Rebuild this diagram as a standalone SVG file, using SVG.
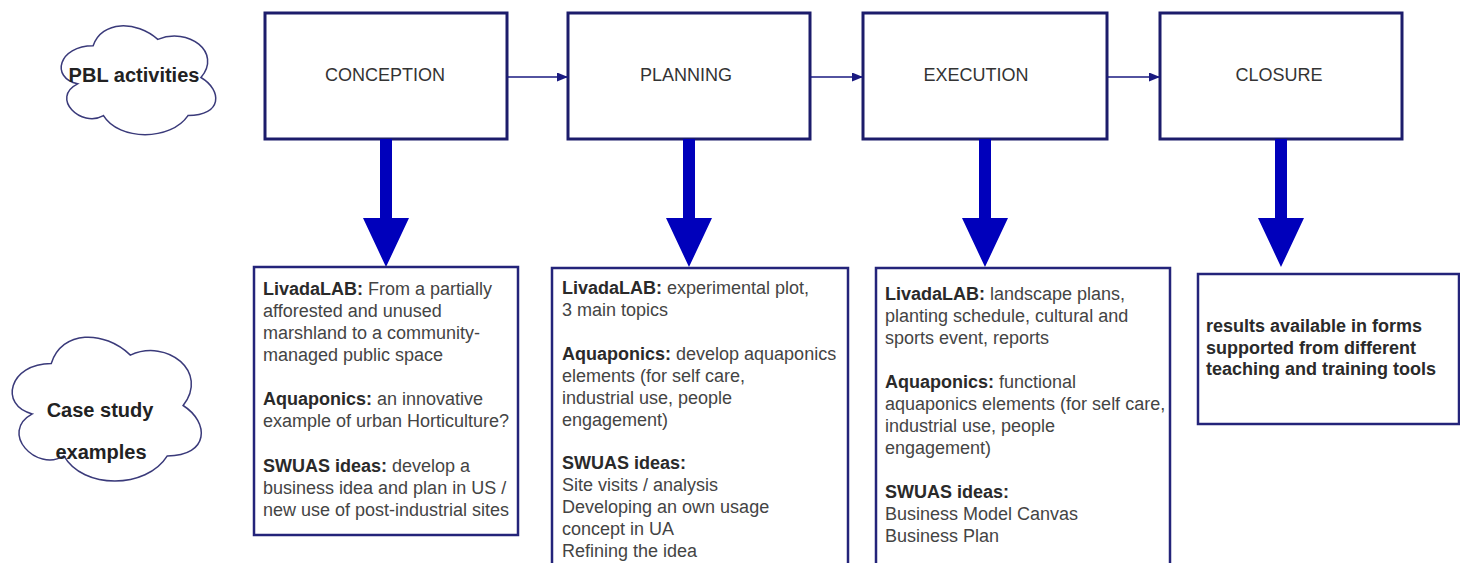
<svg xmlns="http://www.w3.org/2000/svg" width="1460" height="563" viewBox="0 0 1460 563">
<style>
  .box { fill: #ffffff; stroke: #1c1c6b; stroke-width: 3; }
  .bbox { fill: #ffffff; stroke: #24247a; stroke-width: 2.5; }
  .cloud { fill: #ffffff; stroke: #3a3a7a; stroke-width: 1.5; }
  .title { font-family: "Liberation Sans", Arial, sans-serif; font-size: 18px; fill: #333333; text-anchor: middle; }
  .txt { font-family: "Liberation Sans", Arial, sans-serif; font-size: 18px; fill: #444444; }
  .b { font-weight: bold; fill: #2a2a2a; }
  .ctext { font-family: "Liberation Sans", Arial, sans-serif; font-size: 20px; font-weight: bold; fill: #222222; text-anchor: middle; }
  .thin { stroke: #1a1a80; stroke-width: 1.6; fill: none; }
  .thick { fill: #0000bb; }
</style>
<defs>
  <marker id="ah" markerWidth="11" markerHeight="9" refX="11" refY="4.5" orient="auto" markerUnits="userSpaceOnUse">
    <path d="M0,0 L11,4.5 L0,9 Z" fill="#1a1a80"/>
  </marker>
</defs>
<rect width="1460" height="563" fill="#ffffff"/>

<g id="cloud-pbl">
  <path class="cloud" d="M93.13 45.75 C58.63 45.75 50 77.5 77.6 83.85 C50 97.82 81.05 128.3 103.48 115.6 C119 141 170.75 141 188 115.6 C222.5 115.6 222.5 90.2 200.94 77.5 C222.5 52.1 188 26.7 157.81 39.4 C136.25 20.35 101.75 20.35 93.13 45.75 Z"/>
  <text class="ctext" x="134" y="82">PBL activities</text>
</g>

<g id="cloud-case">
  <path class="cloud" d="M51.25 363.5 C9.05 363.5 -1.5 405.5 32.26 413.9 C-1.5 432.38 36.48 472.7 63.91 455.9 C82.9 489.5 146.2 489.5 167.3 455.9 C209.5 455.9 209.5 422.3 183.13 405.5 C209.5 371.9 167.3 338.3 130.38 355.1 C104 329.9 61.8 329.9 51.25 363.5 Z"/>
  <text class="ctext" x="100" y="417">Case study</text>
  <text class="ctext" x="101" y="459">examples</text>
</g>

<g id="conception">
  <rect class="box" x="265" y="13" width="242" height="126"/>
  <text class="title" x="385" y="81">CONCEPTION</text>
</g>
<g id="planning">
  <rect class="box" x="568" y="13" width="242" height="126"/>
  <text class="title" x="686" y="81">PLANNING</text>
</g>
<g id="execution">
  <rect class="box" x="863" y="13" width="244" height="126"/>
  <text class="title" x="976" y="81">EXECUTION</text>
</g>
<g id="closure">
  <rect class="box" x="1160" y="13" width="242" height="126"/>
  <text class="title" x="1279" y="81">CLOSURE</text>
</g>

<g id="connectors">
  <line class="thin" x1="507" y1="77" x2="568" y2="77" marker-end="url(#ah)"/>
  <line class="thin" x1="810" y1="77" x2="863" y2="77" marker-end="url(#ah)"/>
  <line class="thin" x1="1107" y1="77" x2="1160" y2="77" marker-end="url(#ah)"/>
  <path class="thick" d="M380 139 H392 V218 H409 L386 267 L363 218 H380 Z"/>
  <path class="thick" d="M683 139 H695 V218 H712 L689 267 L666 218 H683 Z"/>
  <path class="thick" d="M979 139 H991 V218 H1008 L985 267 L962 218 H979 Z"/>
  <path class="thick" d="M1275 139 H1287 V218 H1304 L1281 267 L1258 218 H1275 Z"/>
</g>

<g id="case-conception">
  <rect class="bbox" x="254" y="267" width="264" height="268"/>
  <text class="txt" x="263">
    <tspan x="263" y="295"><tspan class="b">LivadaLAB:</tspan> From a partially</tspan>
    <tspan x="263" y="317">afforested and unused</tspan>
    <tspan x="263" y="339">marshland to a community-</tspan>
    <tspan x="263" y="361">managed public space</tspan>
    <tspan x="263" y="405"><tspan class="b">Aquaponics:</tspan> an innovative</tspan>
    <tspan x="263" y="427">example of urban Horticulture?</tspan>
    <tspan x="263" y="472"><tspan class="b">SWUAS ideas:</tspan> develop a</tspan>
    <tspan x="263" y="494">business idea and plan in US /</tspan>
    <tspan x="263" y="516">new use of post-industrial sites</tspan>
  </text>
</g>

<g id="case-planning">
  <rect class="bbox" x="552" y="268" width="296" height="320"/>
  <text class="txt" x="562">
    <tspan x="562" y="294"><tspan class="b">LivadaLAB:</tspan> experimental plot,</tspan>
    <tspan x="562" y="316">3 main topics</tspan>
    <tspan x="562" y="360"><tspan class="b">Aquaponics:</tspan> develop aquaponics</tspan>
    <tspan x="562" y="382">elements (for self care,</tspan>
    <tspan x="562" y="404">industrial use, people</tspan>
    <tspan x="562" y="426">engagement)</tspan>
    <tspan x="562" y="469" class="b">SWUAS ideas:</tspan>
    <tspan x="562" y="491">Site visits / analysis</tspan>
    <tspan x="562" y="513">Developing an own usage</tspan>
    <tspan x="562" y="535">concept in UA</tspan>
    <tspan x="562" y="557">Refining the idea</tspan>
  </text>
</g>

<g id="case-execution">
  <rect class="bbox" x="876" y="268" width="294" height="320"/>
  <text class="txt" x="885">
    <tspan x="885" y="300"><tspan class="b">LivadaLAB:</tspan> landscape plans,</tspan>
    <tspan x="885" y="322">planting schedule, cultural and</tspan>
    <tspan x="885" y="344">sports event, reports</tspan>
    <tspan x="885" y="388"><tspan class="b">Aquaponics:</tspan> functional</tspan>
    <tspan x="885" y="410">aquaponics elements (for self care,</tspan>
    <tspan x="885" y="432">industrial use, people</tspan>
    <tspan x="885" y="454">engagement)</tspan>
    <tspan x="885" y="498" class="b">SWUAS ideas:</tspan>
    <tspan x="885" y="520">Business Model Canvas</tspan>
    <tspan x="885" y="542">Business Plan</tspan>
  </text>
</g>

<g id="case-closure">
  <rect class="bbox" x="1198" y="274" width="261" height="150"/>
  <text class="txt b" x="1206">
    <tspan x="1206" y="332">results available in forms</tspan>
    <tspan x="1206" y="353.5">supported from different</tspan>
    <tspan x="1206" y="375">teaching and training tools</tspan>
  </text>
</g>
</svg>
